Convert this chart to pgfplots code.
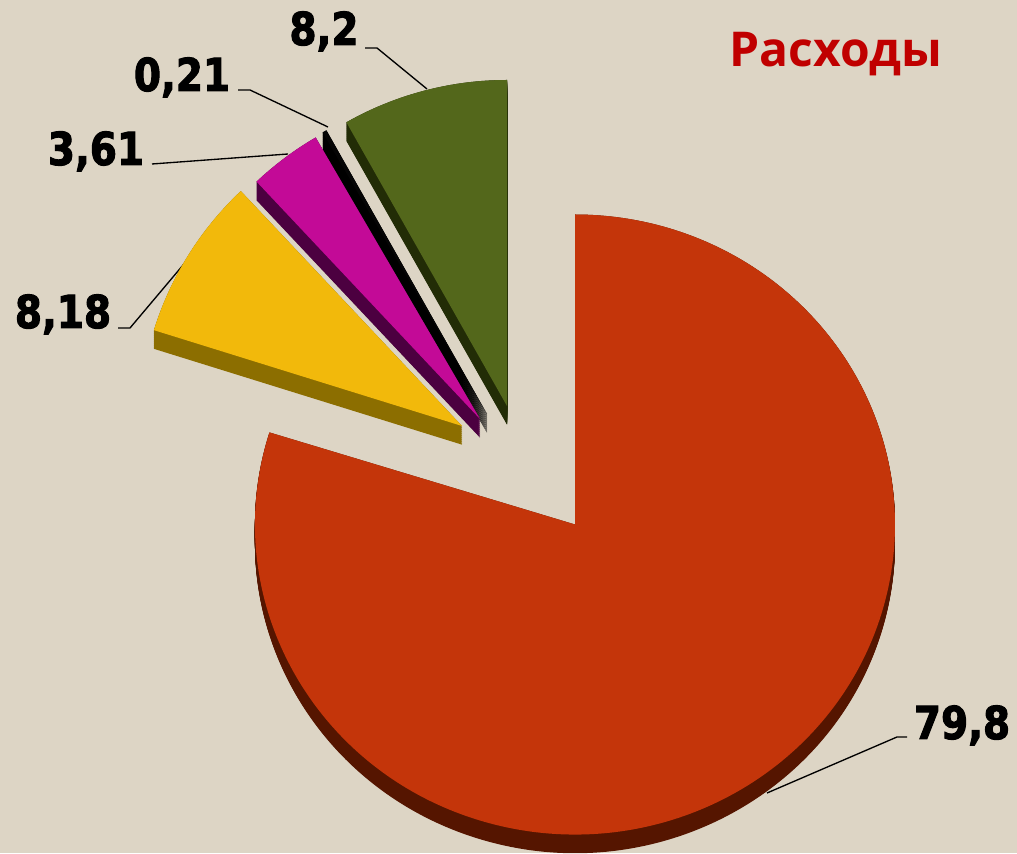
\documentclass[border=0pt]{standalone}
\usepackage{pgfplots}
\pgfplotsset{compat=1.18}
\usepackage{fontspec}
\setmainfont{DejaVu Sans}
\newfontfamily\lab[FakeStretch=0.86, FakeBold=2.2]{DejaVu Sans Bold}
\newfontfamily\ttl{Open Sans}
\definecolor{bg}{HTML}{DDD5C5}
\definecolor{redF}{HTML}{C4350A}\definecolor{redS}{HTML}{551500}
\definecolor{yelF}{HTML}{F2B90B}\definecolor{yelS}{HTML}{8C6E00}
\definecolor{magF}{HTML}{C30A97}\definecolor{magS}{HTML}{4C0040}
\definecolor{blkF}{HTML}{050505}\definecolor{blkS}{HTML}{000000}
\definecolor{grnF}{HTML}{53671B}\definecolor{grnS}{HTML}{222C06}
\definecolor{ttlc}{HTML}{C00000}
% data (percent)
\def\vRed{79.8}\def\vYel{8.18}\def\vMag{3.61}\def\vBlk{0.21}\def\vGrn{8.2}
% #1 apex, #2 start angle, #3 end angle, #4 face, #5 side, #6 x radius, #7 y radius
\newcommand{\pieslice}[7]{%
  \foreach \d in {0,0.5,...,14}{%
    \fill[#5] ([yshift=-\d pt]#1) -- ++(#2:#6 and #7) arc[start angle=#2, end angle=#3, x radius=#6, y radius=#7] -- cycle;}
  \fill[#4] (#1) -- ++(#2:#6 and #7) arc[start angle=#2, end angle=#3, x radius=#6, y radius=#7] -- cycle;
}
\begin{document}
\begin{tikzpicture}
\begin{axis}[scale only axis, width=762.75pt, height=639.75pt,
  xmin=0, xmax=1017, ymin=0, ymax=853, axis lines=none, clip=false]
\fill[bg] (axis cs:0,0) rectangle (axis cs:1017,853);
\coordinate (bl) at (axis cs:0,0);
\coordinate (tr) at (axis cs:1017,853);
\coordinate (cRed) at (axis cs:575,328.5);
\coordinate (cGrn) at (axis cs:507,447);
\coordinate (cBlk) at (axis cs:487,439);
\coordinate (cMag) at (axis cs:480,434);
\coordinate (cYel) at (axis cs:462,427);
% leader lines
\draw[black, line width=1pt] (axis cs:365,805) -- (axis cs:377,805) -- (axis cs:427,764);
\draw[black, line width=1pt] (axis cs:238,763) -- (axis cs:250,763) -- (axis cs:328,726);
\draw[black, line width=1pt] (axis cs:152,689) -- (axis cs:288,699);
\draw[black, line width=1pt] (axis cs:118,525) -- (axis cs:130,525) -- (axis cs:189,595);
\draw[black, line width=1pt] (axis cs:907,116) -- (axis cs:897,116) -- (axis cs:767,60);
% labels
\node[anchor=base, inner sep=0pt, font=\lab\fontsize{34}{34}\selectfont] at (axis cs:324,808) {8,2};
\node[anchor=base, inner sep=0pt, font=\lab\fontsize{34}{34}\selectfont] at (axis cs:182,762) {0,21};
\node[anchor=base, inner sep=0pt, font=\lab\fontsize{34}{34}\selectfont] at (axis cs:96,688) {3,61};
\node[anchor=base, inner sep=0pt, font=\lab\fontsize{34}{34}\selectfont] at (axis cs:63,525) {8,18};
\node[anchor=base, inner sep=0pt, font=\lab\fontsize{34}{34}\selectfont] at (axis cs:962,114) {79,8};
\node[anchor=base, inner sep=0pt, text=ttlc, font=\ttl\bfseries\fontsize{36}{36}\selectfont] at (axis cs:836,786) {Расходы};
\end{axis}
\begin{scope}
\clip (bl) rectangle (tr);
\pgfmathsetmacro{\aG}{90+\vGrn*3.6}
\pgfmathsetmacro{\aB}{\aG+\vBlk*3.6}
\pgfmathsetmacro{\aM}{\aB+\vMag*3.6}
\pgfmathsetmacro{\aY}{\aM+\vYel*3.6}
\pgfmathsetmacro{\aR}{\aY+\vRed*3.6}
\pieslice{cGrn}{90}{\aG}{grnF}{grnS}{244.5pt}{244.5pt}
\pieslice{cBlk}{\aG}{\aB}{blkF}{blkS}{244.5pt}{244.5pt}
\pieslice{cMag}{\aB}{\aM}{magF}{magS}{244.5pt}{244.5pt}
\pieslice{cYel}{\aM}{\aY}{yelF}{yelS}{242pt}{242pt}
\pieslice{cRed}{\aY}{\aR}{redF}{redS}{240pt}{232.5pt}
\end{scope}
\end{tikzpicture}
\end{document}
